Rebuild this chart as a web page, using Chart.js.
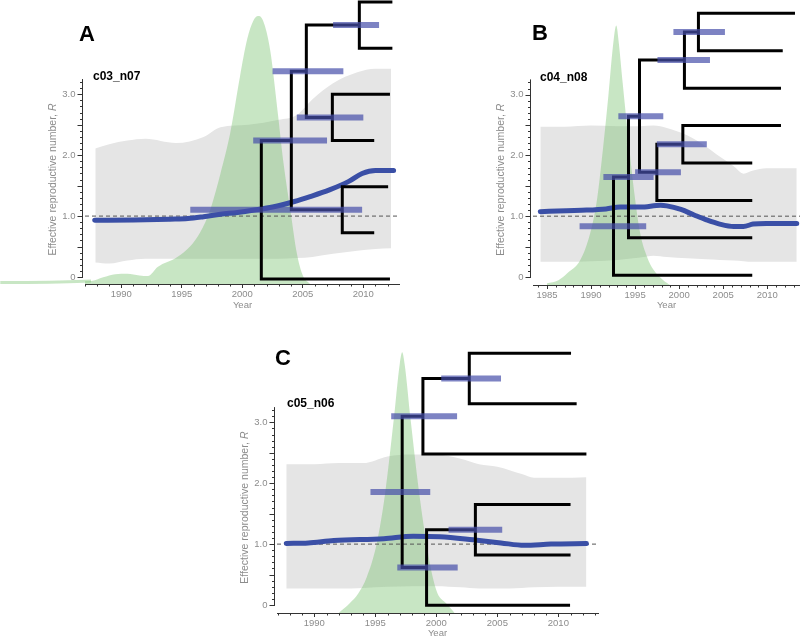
<!DOCTYPE html>
<html>
<head>
<meta charset="utf-8">
<script src="https://cdn.jsdelivr.net/npm/chart.js@4.4.1/dist/chart.umd.min.js"></script>
<style>
  html, body { margin: 0; padding: 0; background: #fff; width: 800px; height: 638px; overflow: hidden; }
  body { position: relative; font-family: 'Liberation Sans', Arial, sans-serif; }
  canvas { position: absolute; }
  .tag { position: absolute; font-weight: bold; color: #000; white-space: nowrap; }
  .letter { font-size: 22px; line-height: 22px; }
  .run { font-size: 12px; line-height: 12px; }
</style>
</head>
<body>
<canvas id="chartA" width="400" height="312" style="left:0;top:0"></canvas>
<canvas id="chartB" width="400" height="312" style="left:400px;top:0"></canvas>
<canvas id="chartC" width="400" height="322" style="left:200px;top:318px"></canvas>

<div class="tag letter" style="left:79px;top:23px">A</div>
<div class="tag run" style="left:93px;top:70px">c03_n07</div>
<div class="tag letter" style="left:532px;top:22px">B</div>
<div class="tag run" style="left:540px;top:71px">c04_n08</div>
<div class="tag letter" style="left:275px;top:347px">C</div>
<div class="tag run" style="left:287px;top:397px">c05_n06</div>

<script>
// ---- shared ticks ----
const yMajorTicks = [0, 0.5, 1, 1.5, 2, 2.5, 3];
const yMinorTicks = [0.1, 0.2, 0.3, 0.4, 0.6, 0.7, 0.8, 0.9, 1.1, 1.2, 1.3, 1.4, 1.6, 1.7, 1.8, 1.9,
                     2.1, 2.2, 2.3, 2.4, 2.6, 2.7, 2.8, 2.9, 3.1, 3.2];
const refLevel = 1.0;

// ---- panel A : c03_n07 ----
const xMajorA = [1990, 1995, 2000, 2005, 2010];
const bandYearsA = [1987.85, 1989, 1990.5, 1992, 1994.5, 1996.8, 1998.2, 2000.5, 2003, 2004.5, 2005.8, 2007.5, 2009.5, 2011, 2012.3];
const bandHiA    = [2.11, 2.18, 2.24, 2.27, 2.2, 2.3, 2.46, 2.5, 2.58, 2.66, 2.92, 3.18, 3.36, 3.42, 3.42];
const bandLoA    = [0.24, 0.22, 0.27, 0.3, 0.3, 0.3, 0.3, 0.3, 0.3, 0.31, 0.33, 0.38, 0.43, 0.46, 0.47];
const rYearsA = [1987.8, 1991, 1994, 1995.5, 1996.8, 1998.2, 1999.6, 2001, 2002.5, 2004.3, 2005.6, 2007.2, 2008.8, 2009.9, 2011, 2012.5];
const rA      = [0.93, 0.935, 0.95, 0.96, 0.99, 1.03, 1.06, 1.1, 1.15, 1.24, 1.32, 1.43, 1.57, 1.7, 1.75, 1.75];
const densYearsA = [1980, 1987.5, 1988.5, 1989.5, 1990.5, 1991.5, 1992.2, 1993, 1994.6, 1995.7, 1996.5, 1997.35, 1998.2, 1999.0,
                    1999.8, 2000.4, 2000.9, 2001.3, 2001.7, 2002.3, 2002.9, 2003.4, 2004.0, 2004.5, 2005.0, 2005.6];
const densA      = [0.025, 0.05, 0.11, 0.16, 0.17, 0.14, 0.13, 0.28, 0.44, 0.62, 0.84, 1.22, 1.82, 2.48,
                    3.4, 4.02, 4.32, 4.4, 4.33, 3.84, 2.86, 1.99, 1.17, 0.51, 0.14, 0];
const tipsA  = [2012.2, 2010.9, 2012.05, 2010.9, 2012.2, 2012.4, 2012.4];
const nodesA = [[6, 5, 2009.67], [4, 3, 2007.44], [7, 8, 2005.29], [2, 1, 2008.26], [9, 10, 2004.05], [11, 0, 2001.57]];
const hpdLoA = [2007.5, 2004.5, 2002.5, 2005.9, 2000.9, 1995.7];
const hpdHiA = [2011.3, 2010.0, 2008.35, 2009.9, 2007.0, 2006.3];

// ---- panel B : c04_n08 ----
const xMajorB = [1985, 1990, 1995, 2000, 2005, 2010];
const bandYearsB = [1984.24, 1987, 1990, 1993, 1995.6, 1997.1, 1998.6, 2000.9, 2003.1, 2004.6, 2006.2, 2007.3, 2008.4, 2009.9, 2013.35];
const bandHiB    = [2.47, 2.47, 2.49, 2.48, 2.48, 2.49, 2.45, 2.33, 2.14, 1.98, 1.82, 1.7, 1.75, 1.79, 1.79];
const bandLoB    = [0.25, 0.25, 0.26, 0.28, 0.32, 0.35, 0.33, 0.31, 0.29, 0.28, 0.27, 0.26, 0.25, 0.25, 0.25];
const rYearsB = [1984.24, 1987.2, 1989.5, 1991.7, 1993.3, 1995.6, 1997.9, 1998.6, 2000.2, 2001.7, 2003.1, 2004.6, 2006.2, 2007.3, 2008.4, 2009.9, 2013.35];
const rB      = [1.074, 1.09, 1.1, 1.12, 1.15, 1.15, 1.18, 1.17, 1.11, 1.02, 0.94, 0.87, 0.83, 0.83, 0.87, 0.88, 0.88];
const densYearsB = [1985.0, 1986.3, 1987.27, 1988.78, 1989.9, 1990.67, 1991.42, 1991.99, 1992.48, 1992.86, 1993.16,
                    1993.6, 1994.25, 1994.82, 1995.58, 1996.34, 1997.09, 1998.2, 1998.98];
const densB      = [0.03, 0.08, 0.19, 0.41, 0.85, 1.4, 2.33, 3.15, 3.92, 4.27, 3.97,
                    3.31, 2.38, 1.62, 0.85, 0.47, 0.25, 0.08, 0];
const tipsB  = [2008.3, 2008.3, 2008.3, 2008.3, 2011.56, 2011.56, 2011.76, 2013.15];
const nodesB = [[7, 6, 2002.19], [8, 5, 2000.6], [4, 3, 2000.42], [10, 2, 1997.47], [9, 11, 1995.5], [12, 1, 1994.25], [13, 0, 1992.55]];
const hpdLoB = [1999.35, 1997.54, 1997.47, 1995.0, 1993.1, 1991.4, 1988.7];
const hpdHiB = [2005.2, 2003.5, 2003.14, 2000.2, 1998.2, 1997.1, 1996.26];

// ---- panel C : c05_n06 ----
const xMajorC = [1990, 1995, 2000, 2005, 2010];
const bandYearsC = [1987.7, 1990, 1992, 1994, 1996, 1998, 2000, 2002, 2003.5, 2005, 2007, 2008, 2010, 2012.3];
const bandHiC    = [2.31, 2.31, 2.33, 2.33, 2.44, 2.47, 2.47, 2.4, 2.31, 2.27, 2.15, 2.09, 2.09, 2.1];
const bandLoC    = [0.27, 0.27, 0.27, 0.28, 0.3, 0.31, 0.31, 0.29, 0.27, 0.27, 0.28, 0.29, 0.3, 0.3];
const rYearsC = [1987.7, 1989.5, 1991.6, 1995.7, 1998.1, 2000.3, 2003, 2005.3, 2007.2, 2009.4, 2012.3];
const rC      = [1.01, 1.02, 1.06, 1.09, 1.13, 1.12, 1.07, 1.02, 0.98, 1.0, 1.01];
const densYearsC = [1992.0, 1992.9, 1993.6, 1994.3, 1995.1, 1995.8, 1996.5, 1997.0, 1997.2, 1997.4, 1997.9,
                    1998.6, 1999.2, 1999.7, 2000.1, 2000.8, 2001.5];
const densC      = [0, 0.16, 0.32, 0.59, 1.13, 1.96, 3.16, 4.09, 4.28, 4.09, 3.16,
                    1.96, 1.13, 0.59, 0.32, 0.16, 0];
const tipsC  = [2010.96, 2011.0, 2011.0, 2012.3, 2011.5, 2011.04];
const nodesC = [[5, 4, 2002.7], [6, 3, 1998.9], [2, 1, 2003.2], [8, 0, 1999.2], [7, 9, 1997.2]];
const hpdLoC = [2000.4, 1996.3, 2001.0, 1996.8, 1994.6];
const hpdHiC = [2005.3, 2001.7, 2005.4, 2001.75, 1999.5];

// ---- styling ----
const FAMILY = "'Liberation Sans', Arial, sans-serif";
const AXIS = '#333';
const TICK = '#8c8c8c';
const GREY = '#e5e5e5';
const GREEN = 'rgba(110,190,100,0.38)';
const BLUE = '#3a4fa6';
const HPD = 'rgba(70,78,170,0.7)';
const Y_TITLE = 'Effective reproductive number, ';

Chart.defaults.font.family = FAMILY;

const range = (a, b) => { const out = []; for (let v = a; v <= b; v++) out.push(v); return out; };
const xy = (xs, ys) => xs.map((v, i) => ({ x: v, y: ys[i] }));

// rectangular cladogram: tips stacked 0..n-1, each node sits midway between its children
function layoutTree(tips, nodes, lo, hi) {
  const x = tips.slice();
  const y = tips.map((_, i) => i);
  nodes.forEach(([a, b, yr]) => { x.push(yr); y.push((y[a] + y[b]) / 2); });
  const branches = [];
  const bars = [];
  nodes.forEach(([a, b, yr], k) => {
    branches.push({ x: x[a], y: y[a] }, { x: yr, y: y[a] }, { x: yr, y: y[b] }, { x: x[b], y: y[b] }, { x: yr, y: null });
    const ny = y[tips.length + k];
    bars.push({ x: lo[k], y: ny }, { x: hi[k], y: ny }, { x: hi[k], y: null });
  });
  return { branches, bars };
}

// axis line, minor ticks and the y title (the y axis is offset a little from the x axis)
const decor = {
  id: 'decor',
  afterDraw(chart, args, o) {
    const { ctx, chartArea: a, scales: { x, y } } = chart;
    const ax = Math.round(a.left - 3) + 0.5;
    ctx.save();
    ctx.strokeStyle = AXIS;
    ctx.lineWidth = 1;
    ctx.beginPath();
    ctx.moveTo(ax, Math.round(y.getPixelForValue(0)) + 1);
    ctx.lineTo(ax, y.getPixelForValue(o.yTop));
    yMajorTicks.forEach(v => {
      const py = Math.round(y.getPixelForValue(v)) + 0.5;
      ctx.moveTo(ax, py); ctx.lineTo(ax - 5, py);
    });
    yMinorTicks.forEach(v => {
      const py = Math.round(y.getPixelForValue(v)) + 0.5;
      ctx.moveTo(ax, py); ctx.lineTo(ax - 2.5, py);
    });
    o.xMinor.forEach(v => {
      const px = Math.round(x.getPixelForValue(v)) + 0.5;
      ctx.moveTo(px, a.bottom); ctx.lineTo(px, a.bottom + 2.5);
    });
    ctx.stroke();

    ctx.fillStyle = TICK;
    ctx.textBaseline = 'middle';
    ctx.textAlign = 'left';
    ctx.translate(a.left - 32, y.getPixelForValue(1.6));
    ctx.rotate(-Math.PI / 2);
    const f1 = '10.5px ' + FAMILY, f2 = 'italic 10.5px ' + FAMILY;
    ctx.font = f1; const w1 = ctx.measureText(Y_TITLE).width;
    ctx.font = f2; const w2 = ctx.measureText('R').width;
    ctx.font = f1; ctx.fillText(Y_TITLE, -(w1 + w2) / 2, 0);
    ctx.font = f2; ctx.fillText('R', -(w1 + w2) / 2 + w1, 0);
    ctx.restore();
  }
};

function noPad(s) {
  s.paddingTop = 0; s.paddingBottom = 0; s.paddingLeft = 0; s.paddingRight = 0;
}

function drawPanel(id, d) {
  const tree = layoutTree(d.tips, d.nodes, d.hpdLo, d.hpdHi);
  const font = { family: FAMILY, size: 9.5 };
  new Chart(document.getElementById(id), {
    type: 'line',
    data: {
      datasets: [
        { data: tree.bars, yAxisID: 'yt', borderColor: HPD, borderWidth: 6, borderCapStyle: 'butt', tension: 0, clip: false },
        { data: tree.branches, yAxisID: 'yt', borderColor: '#000', borderWidth: 3, borderCapStyle: 'butt',
          borderJoinStyle: 'miter', tension: 0, clip: false },
        { data: xy(d.rYears, d.r), yAxisID: 'y', borderColor: BLUE, borderWidth: 5, borderCapStyle: 'round',
          cubicInterpolationMode: 'monotone' },
        { data: [{ x: d.xRange[0], y: refLevel }, { x: d.xRange[1], y: refLevel }], yAxisID: 'y',
          borderColor: '#555', borderWidth: 1, borderDash: [4, 3] },
        { data: xy(d.densYears, d.dens), yAxisID: 'yd', borderWidth: 3, borderColor: 'transparent',
          backgroundColor: GREEN, fill: 'start', cubicInterpolationMode: 'monotone', capBezierPoints: false, clip: false,
          segment: { borderColor: c => (d.tail && c.p0DataIndex === 0) ? GREEN : undefined } },
        { data: xy(d.bandYears, d.bandHi), yAxisID: 'y', borderWidth: 0, backgroundColor: GREY, fill: '+1',
          cubicInterpolationMode: 'monotone' },
        { data: xy(d.bandYears, d.bandLo), yAxisID: 'y', borderWidth: 0, fill: false, cubicInterpolationMode: 'monotone' }
      ]
    },
    options: {
      responsive: false,
      animation: false,
      devicePixelRatio: 1,
      events: [],
      layout: { autoPadding: false, padding: { left: 0, right: d.padRight, top: 0, bottom: 0 } },
      elements: { point: { radius: 0 } },
      plugins: {
        legend: { display: false },
        tooltip: { enabled: false },
        decor: { yTop: 3.25, xMinor: d.xMinor }
      },
      scales: {
        x: {
          type: 'linear', min: d.xRange[0], max: d.xRange[1],
          afterFit: s => { s.height = d.xAxisH; noPad(s); },
          afterBuildTicks: s => { s.ticks = d.xMajor.map(v => ({ value: v })); },
          grid: { drawOnChartArea: false, tickLength: 4, tickColor: AXIS, color: AXIS },
          border: { color: AXIS, width: 1 },
          ticks: { padding: 1, color: TICK, font, maxRotation: 0, autoSkip: false, callback: v => String(v) },
          title: { display: true, text: 'Year', color: TICK, font, padding: { top: 0, bottom: 1 } }
        },
        y: {
          type: 'linear', position: 'left', min: d.yRange[0], max: d.yRange[1],
          afterFit: s => { s.width = d.axisW; noPad(s); },
          afterBuildTicks: s => { s.ticks = yMajorTicks.map(v => ({ value: v })); },
          grid: { display: false, drawTicks: false },
          border: { display: false },
          ticks: { padding: 9.5, color: TICK, font, autoSkip: false,
                   callback: v => v === 0 ? '0' : (Number.isInteger(v) ? v.toFixed(1) : '') }
        },
        yt: { type: 'linear', display: false, min: d.treeRange[0], max: d.treeRange[1] },
        yd: { type: 'linear', display: false, min: 0, max: d.yRange[1] - d.yRange[0] }
      }
    },
    plugins: [decor]
  });
}

drawPanel('chartA', {
  xRange: [1987.0, 2013.03], yRange: [-0.115, 4.548], treeRange: [-0.108, 6.043],
  axisW: 85, xAxisH: 28, padRight: 0, tail: true,
  xMajor: xMajorA, xMinor: range(1987, 2013).filter(v => v % 5),
  bandYears: bandYearsA, bandHi: bandHiA, bandLo: bandLoA,
  rYears: rYearsA, r: rA, densYears: densYearsA, dens: densA,
  tips: tipsA, nodes: nodesA, hpdLo: hpdLoA, hpdHi: hpdHiA
});

drawPanel('chartB', {
  xRange: [1983.41, 2013.72], yRange: [-0.132, 4.556], treeRange: [-0.259, 7.355],
  axisW: 133, xAxisH: 27, padRight: 0, tail: false,
  xMajor: xMajorB, xMinor: range(1984, 2013).filter(v => v % 5),
  bandYears: bandYearsB, bandHi: bandHiB, bandLo: bandLoB,
  rYears: rYearsB, r: rB, densYears: densYearsB, dens: densB,
  tips: tipsB, nodes: nodesB, hpdLo: hpdLoB, hpdHi: hpdHiB
});

drawPanel('chartC', {
  xRange: [1986.94, 2013.25], yRange: [-0.131, 4.713], treeRange: [-0.153, 5.70],
  axisW: 77, xAxisH: 27, padRight: 2, tail: false,
  xMajor: xMajorC, xMinor: range(1987, 2013).filter(v => v % 5),
  bandYears: bandYearsC, bandHi: bandHiC, bandLo: bandLoC,
  rYears: rYearsC, r: rC, densYears: densYearsC, dens: densC,
  tips: tipsC, nodes: nodesC, hpdLo: hpdLoC, hpdHi: hpdHiC
});
</script>
</body>
</html>
